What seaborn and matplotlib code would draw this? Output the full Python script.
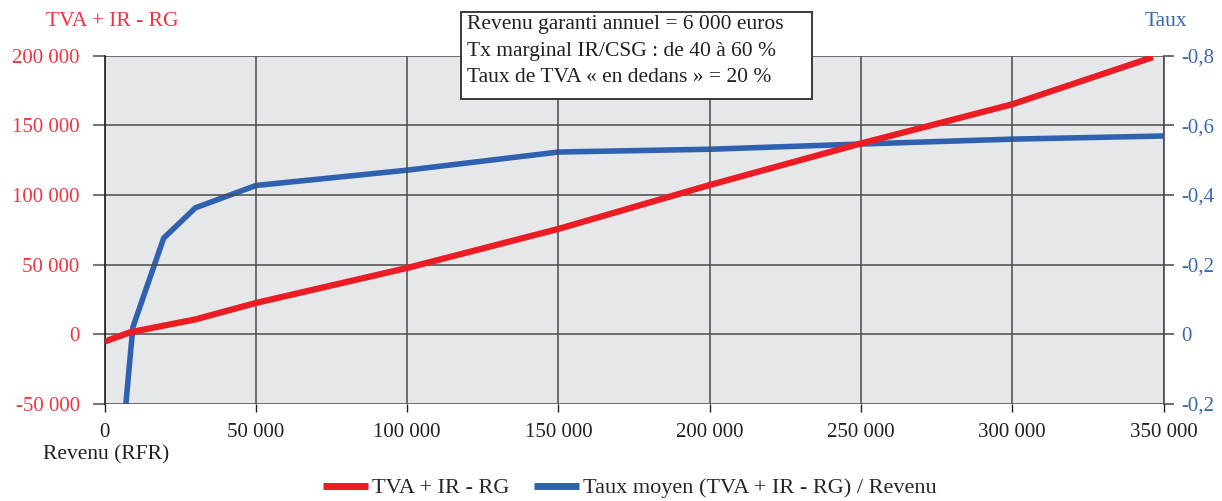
import matplotlib
matplotlib.use("Agg")
import matplotlib.pyplot as plt
import seaborn as sns
import pandas as pd
from matplotlib.patches import Rectangle
from matplotlib.lines import Line2D

# ---- data ----
red_x = [0, 8500, 30000, 50000, 100000, 150000, 200000, 250000, 300000, 346500]
red_y = [-5200, 1500, 10700, 22500, 47600, 75600, 107100, 136900, 165000, 198800]

blue_x = [7000, 9300, 19500, 30000, 50000, 100000, 150000, 200000, 250000, 300000, 350000]
blue_y = [-0.20, 0.02, 0.276, 0.363, 0.427, 0.471, 0.523, 0.531, 0.546, 0.560, 0.569]

x_ticks = [0, 50000, 100000, 150000, 200000, 250000, 300000, 350000]
left_ticks = [-50000, 0, 50000, 100000, 150000, 200000]
right_ticks = [-0.2, 0, 0.2, 0.4, 0.6, 0.8]
right_labels = ["-0,2", "0", "-0,2", "-0,4", "-0,6", "-0,8"]

red_name = "TVA + IR - RG"
blue_name = "Taux moyen (TVA + IR - RG) / Revenu"
box_lines = ["Revenu garanti annuel = 6 000 euros",
             "Tx marginal IR/CSG : de 40 à 60 %",
             "Taux de TVA « en dedans » = 20 %"]

RED = "#ec1c24"
BLUE = "#2e62b0"
RED_TXT = "#ee3440"
BLUE_TXT = "#3a68b2"
GRID = "#4a4a4a"
DARK = "#231f20"

sns.set_theme(style="white")
plt.rcParams["font.family"] = ["Liberation Serif", "DejaVu Serif"]

W, H = 1222, 501
fig = plt.figure(figsize=(W / 100, H / 100), dpi=100)
rect = [104.7 / W, 1 - 404 / H, (1163.5 - 104.7) / W, (404 - 55.5) / H]
ax = fig.add_axes(rect)

df_red = pd.DataFrame({"x": red_x, "y": red_y})
df_blue = pd.DataFrame({"x": blue_x, "y": blue_y})

sns.lineplot(data=df_red, x="x", y="y", ax=ax, color=RED, lw=4.5,
             solid_capstyle="butt", zorder=4, legend=False)
ax.set_xlim(0, 350000)
ax.set_ylim(-50000, 200000)
ax.set_xticks(x_ticks)
ax.set_xticklabels([f"{v:,}".replace(",", " ") for v in x_ticks])
ax.set_yticks(left_ticks)
ax.set_yticklabels([f"{v:,}".replace(",", " ") for v in left_ticks])
ax.set_xlabel("")
ax.set_ylabel("")
ax.grid(True, axis="both", color=GRID, lw=1.1)
ax.set_axisbelow(True)
for s in ["top", "bottom", "right"]:
    ax.spines[s].set_visible(False)
ax.spines["left"].set_color(DARK)
ax.spines["left"].set_linewidth(1.2)
ax.tick_params(axis="y", colors="#777777", labelcolor=RED_TXT, labelsize=15,
               length=9, width=1.5, pad=9, direction="out", left=True)
ax.tick_params(axis="x", colors=DARK, labelcolor=DARK, labelsize=15,
               length=6, width=1.0, pad=8, direction="out", bottom=True)

ax2 = ax.twinx()
sns.lineplot(data=df_blue, x="x", y="y", ax=ax2, color=BLUE, lw=4.0,
             solid_capstyle="butt", zorder=3, legend=False)
ax2.set_ylim(-0.2, 0.8)
ax2.set_xlim(0, 350000)
ax2.set_yticks(right_ticks)
ax2.set_yticklabels(right_labels)
ax2.set_ylabel("")
ax2.grid(False)
for s in ["top", "bottom", "left"]:
    ax2.spines[s].set_visible(False)
ax2.spines["right"].set_color(GRID)
ax2.spines["right"].set_linewidth(1.2)
ax2.tick_params(axis="y", colors="#555555", labelcolor=BLUE_TXT, labelsize=15,
                length=7, width=1.2, pad=6, direction="out", right=True)

# red series above blue; plot background drawn at figure level
ax.patch.set_visible(False)
ax2.patch.set_visible(False)
ax2.set_zorder(0)
ax.set_zorder(1)
fig.patches.append(Rectangle((rect[0], rect[1]), rect[2], rect[3],
                             transform=fig.transFigure, facecolor="#e6e7e9",
                             edgecolor="none", zorder=-10))

# axis titles
fig.text(46 / W, 1 - 22 / H, red_name, color=RED_TXT, fontsize=15.5, ha="left", va="center")
fig.text(1166 / W, 1 - 22 / H, "Taux", color=BLUE_TXT, fontsize=15.5, ha="center", va="center")
fig.text(43 / W, 1 - 455 / H, "Revenu (RFR)", color=DARK, fontsize=15.5, ha="left", va="center")

# annotation box
box = Rectangle((460.7 / W, 1 - 99.3 / H), (811.7 - 460.7) / W, (99.3 - 11.7) / H,
                transform=fig.transFigure, facecolor="white", edgecolor="#3a3a3a",
                lw=1.4, zorder=20)
fig.patches.append(box)
for i, t in enumerate(box_lines):
    fig.text(467 / W, 1 - (25 + 26.5 * i) / H, t, color=DARK, fontsize=15.5,
             ha="left", va="center", zorder=21)

# legend
handles = [Line2D([], [], color=RED, lw=5, solid_capstyle="butt"),
           Line2D([], [], color=BLUE, lw=5, solid_capstyle="butt")]
fig.legend(handles, [red_name, blue_name], loc="center", ncol=2,
           bbox_to_anchor=(630 / W, 1 - 488 / H), frameon=False, fontsize=16,
           handlelength=2.0, handletextpad=0.2, columnspacing=1.1)

fig.savefig("out.png", dpi=100)
